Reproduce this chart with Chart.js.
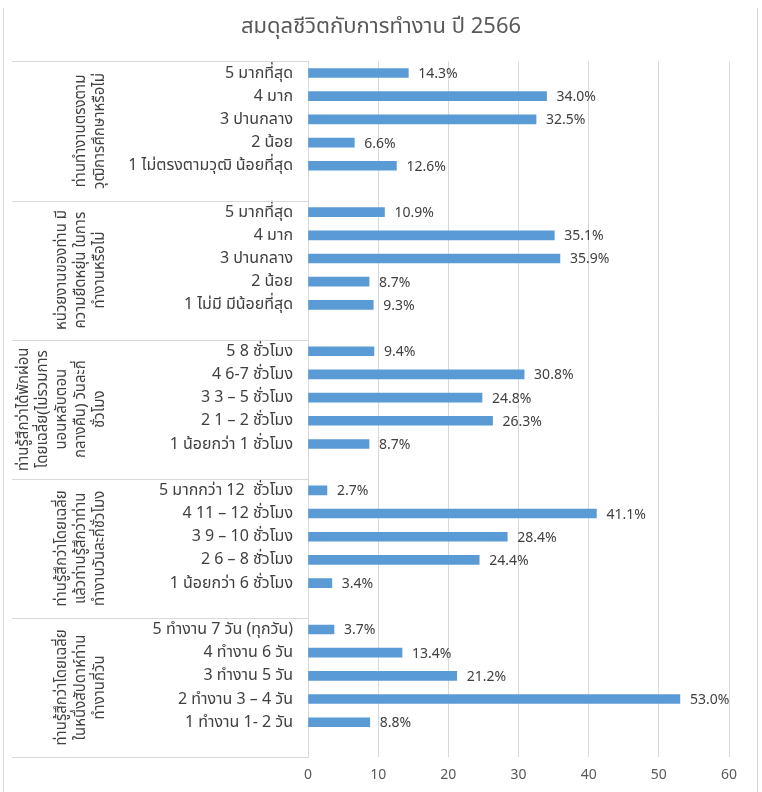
<!DOCTYPE html>
<html>
<head>
<meta charset="utf-8">
<script src="https://cdn.jsdelivr.net/npm/chart.js@4/dist/chart.umd.min.js"></script>
<style>
  html, body { margin: 0; padding: 0; background: #fff; }
  #wrap { width: 762px; height: 792px; position: relative; }
</style>
</head>
<body>
<div id="wrap"><canvas id="balanceChart"></canvas></div>
<script>
const FONT = "'Noto Sans', 'Noto Sans Thai', 'DejaVu Sans', sans-serif";

// one empty slot after each group, like the source sheet
const categories = [
  '5 มากที่สุด', '4 มาก', '3 ปานกลาง', '2 น้อย', '1 ไม่ตรงตามวุฒิ น้อยที่สุด', '',
  '5 มากที่สุด', '4 มาก', '3 ปานกลาง', '2 น้อย', '1 ไม่มี มีน้อยที่สุด', '',
  '5 8 ชั่วโมง', '4 6-7 ชั่วโมง', '3 3 – 5 ชั่วโมง', '2 1 – 2 ชั่วโมง', '1 น้อยกว่า 1 ชั่วโมง', '',
  '5 มากกว่า 12  ชั่วโมง', '4 11 – 12 ชั่วโมง', '3 9 – 10 ชั่วโมง', '2 6 – 8 ชั่วโมง', '1 น้อยกว่า 6 ชั่วโมง', '',
  '5 ทำงาน 7 วัน (ทุกวัน)', '4 ทำงาน 6 วัน', '3 ทำงาน 5 วัน', '2 ทำงาน 3 – 4 วัน', '1 ทำงาน 1- 2 วัน', ''
];

const percents = [
  14.3, 34.0, 32.5, 6.6, 12.6, null,
  10.9, 35.1, 35.9, 8.7, 9.3, null,
  9.4, 30.8, 24.8, 26.3, 8.7, null,
  2.7, 41.1, 28.4, 24.4, 3.4, null,
  3.7, 13.4, 21.2, 53.0, 8.8, null
];

const groupLabels = [
  ['ท่านทำงานตรงตาม', 'วุฒิการศึกษาหรือไม่'],
  ['หน่วยงานของท่าน มี', 'ความยืดหยุ่น ในการ', 'ทำงานหรือไม่'],
  ['ท่านรู้สึกว่าได้พักผ่อน', 'โดยเฉลี่ย(ไม่รวมการ', 'นอนหลับตอน', 'กลางคืน) วันละกี่', 'ชั่วโมง'],
  ['ท่านรู้สึกว่าโดยเฉลี่ย', 'แล้วท่านรู้สึกว่าท่าน', 'ทำงานวันละกี่ชั่วโมง'],
  ['ท่านรู้สึกว่าโดยเฉลี่ย', 'ในหนึ่งสัปดาห์ท่าน', 'ทำงานกี่วัน']
];
const groupSize = 6;

const xTicks = [0, 10, 20, 30, 40, 50, 60];

// value labels at the end of each bar
const valueLabels = {
  id: 'valueLabels',
  afterDatasetsDraw(chart) {
    const ctx = chart.ctx;
    const meta = chart.getDatasetMeta(0);
    ctx.save();
    ctx.font = '14px ' + FONT;
    ctx.fillStyle = '#404040';
    ctx.textAlign = 'left';
    ctx.textBaseline = 'middle';
    meta.data.forEach((bar, i) => {
      const v = percents[i];
      if (v == null) return;
      ctx.fillText(v.toFixed(1) + '%', bar.x + 10, bar.y + 1);
    });
    ctx.restore();
  }
};

// outer group labels + separators, Excel multi-level style
const groupAxis = {
  id: 'groupAxis',
  afterDraw(chart) {
    const ctx = chart.ctx;
    const area = chart.chartArea;
    const band = (area.bottom - area.top) / categories.length;
    ctx.save();
    ctx.strokeStyle = '#d9d9d9';
    ctx.lineWidth = 1;
    for (let g = 0; g <= groupLabels.length; g++) {
      const y = Math.round(area.top + g * groupSize * band) + 0.5;
      ctx.beginPath();
      ctx.moveTo(12, y);
      ctx.lineTo(area.left, y);
      ctx.stroke();
    }
    // chart frame sides
    ctx.beginPath();
    ctx.moveTo(3.5, 8); ctx.lineTo(3.5, 792);
    ctx.moveTo(757.5, 8); ctx.lineTo(757.5, 792);
    ctx.stroke();

    ctx.font = '15px ' + FONT;
    ctx.fillStyle = '#404040';
    ctx.textAlign = 'center';
    ctx.textBaseline = 'middle';
    groupLabels.forEach((lines, g) => {
      const cy = area.top + (g + 0.5) * groupSize * band;
      lines.forEach((line, i) => {
        const x = 100 - (lines.length - 1 - i) * 19;
        ctx.save();
        ctx.translate(x, cy);
        ctx.rotate(-Math.PI / 2);
        ctx.fillText(line, 0, 0);
        ctx.restore();
      });
    });
    ctx.restore();
  }
};

new Chart(document.getElementById('balanceChart'), {
  type: 'bar',
  data: {
    labels: categories,
    datasets: [{
      label: 'ร้อยละ',
      data: percents,
      backgroundColor: '#5b9bd5',
      barThickness: 9
    }]
  },
  options: {
    indexAxis: 'y',
    responsive: true,
    maintainAspectRatio: false,
    animation: false,
    layout: { padding: { left: 33, right: 33, top: 0, bottom: 0 } },
    plugins: {
      legend: { display: false },
      tooltip: { enabled: false },
      title: {
        display: true,
        text: 'สมดุลชีวิตกับการทำงาน ปี 2566',
        color: '#595959',
        font: { family: FONT, size: 22, weight: 'normal' },
        padding: { top: 14, bottom: 21 }
      }
    },
    scales: {
      x: {
        min: 0,
        max: 60,
        afterBuildTicks(scale) { scale.ticks = xTicks.map(v => ({ value: v })); },
        afterFit(scale) { scale.height = 35; },
        grid: { color: '#d9d9d9', drawTicks: false },
        border: { display: false },
        ticks: { color: '#595959', font: { family: FONT, size: 14 }, padding: 10 }
      },
      y: {
        afterFit(scale) { scale.width = 275; },
        grid: { display: false, drawTicks: false },
        border: { display: true, color: '#d9d9d9' },
        ticks: { autoSkip: false, color: '#404040', font: { family: FONT, size: 16 }, padding: 15 }
      }
    }
  },
  plugins: [valueLabels, groupAxis]
});
</script>
</body>
</html>
